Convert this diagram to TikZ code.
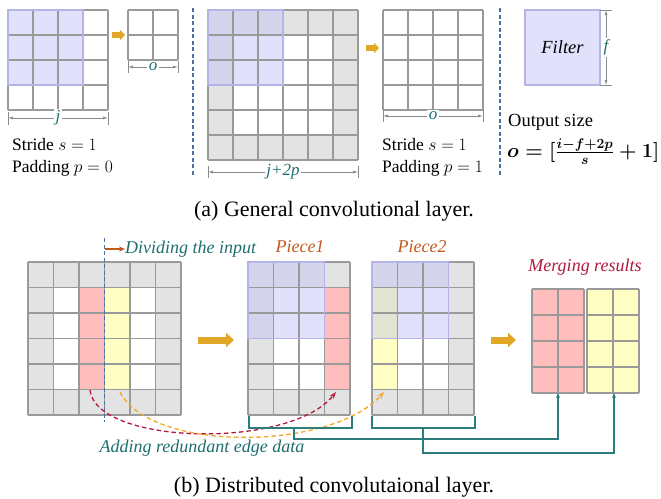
\RequirePackage{fix-cm}
\documentclass[tikz,border=0pt]{standalone}
\usepackage{fontspec}
\setmainfont{Liberation Serif}
\usetikzlibrary{arrows.meta,calc}
\definecolor{gridc}{HTML}{9A9A9A}
\definecolor{padc}{HTML}{E3E3E3}
\definecolor{bluec}{HTML}{E1E1FB}
\definecolor{bluegc}{HTML}{D4D4EC}
\definecolor{blueyc}{HTML}{E3E3D3}
\definecolor{blueedge}{HTML}{B4B4E6}
\definecolor{redc}{HTML}{FFBDBD}
\definecolor{yelc}{HTML}{FFFFC4}
\definecolor{tealc}{HTML}{1F6F6F}
\definecolor{goldc}{HTML}{E0A826}
\definecolor{sepc}{HTML}{4A72A0}
\definecolor{brownc}{HTML}{C05A1E}
\definecolor{crimc}{HTML}{B3193C}
\definecolor{orc}{HTML}{F5A623}
\definecolor{dimc}{HTML}{8A8A8A}
\definecolor{brkc}{HTML}{2E7D7D}
\newcommand{\cgrid}[5]{%
  \foreach \i in {0,...,#4} \draw[gridline] ({#1+\i*#3},#2) -- ({#1+\i*#3},{#2+#5*#3});
  \foreach \j in {0,...,#5} \draw[gridline] (#1,{#2+\j*#3}) -- ({#1+#4*#3},{#2+\j*#3});}
\newsavebox{\formbox}
\begin{document}
\sbox{\formbox}{\fontsize{20}{24}\selectfont\boldmath$o=\lbrack\frac{i-f+2p}{s}+1\rbrack$}%
\begin{tikzpicture}[x=1pt,y=-1pt,
  gridline/.style={gridc,line width=1.2pt},
  txt/.style={font=\fontsize{17.5}{20}\selectfont,inner sep=0pt},
  itxt/.style={font=\fontsize{18}{21}\selectfont\itshape,inner sep=0pt},
  captxt/.style={font=\fontsize{22}{26}\selectfont,inner sep=0pt},
  dimline/.style={dimc,line width=0.7pt,{Latex[length=5pt,width=3pt]}-{Latex[length=5pt,width=3pt]}},
  dimtick/.style={dimc,line width=0.7pt},
  dimlab/.style={font=\fontsize{17}{20}\selectfont\itshape,text=tealc,fill=white,inner sep=1.5pt},
  bigarrow/.style={goldc,line width=7pt,-{Triangle[length=8pt,width=14pt]}},
  smallarrow/.style={goldc,line width=5.5pt,-{Triangle[length=5pt,width=10pt]}},
  sepline/.style={sepc,line width=1.2pt,dash pattern=on 4pt off 2.5pt},
  curvered/.style={crimc,line width=1.3pt,dash pattern=on 4.5pt off 3pt,-{Stealth[length=7pt,width=5pt]}},
  curveor/.style={orc,line width=1.3pt,dash pattern=on 4.5pt off 3pt,-{Stealth[length=7pt,width=5pt]}},
  brk/.style={brkc,line width=1.2pt},
  brkarrow/.style={brkc,line width=1.2pt,-{Stealth[length=5pt,width=4pt]}},
  ovl/.style={blueedge,line width=1.2pt}]
\useasboundingbox (0,0) rectangle (661,498);
\fill[white] (0,0) rectangle (661,498);

% ================= (a) =================
\fill[bluec] (8,10) rectangle (83,85);
\cgrid{8}{10}{25}{4}{4}
\draw[ovl] (8,10) rectangle (83,85);
\draw[dimline] (8,118) -- (108,118) node[dimlab,midway] (dj) {j};
\draw[dimtick] (8,112) -- (8,125) (108,112) -- (108,125);
\node[txt,anchor=base west] (s0) at (12,150) {Stride $s=1$};
\node[txt,anchor=base west] (p0) at (12,172) {Padding $p=0$};
\coordinate (a1s) at (112,35); \coordinate (a1e) at (125,35);
\draw[smallarrow] (a1s) -- (a1e);
\cgrid{128}{10}{25}{2}{2}
\draw[dimline] (128,67) -- (178,67) node[dimlab,midway] (do1) {o};
\draw[dimtick] (128,61) -- (128,73) (178,61) -- (178,73);
\coordinate (sep1t) at (193,8); \coordinate (sep1b) at (193,175);
\draw[sepline] (sep1t) -- (sep1b);
\fill[padc] (208,10) rectangle (358,160);
\fill[white] (233,35) rectangle (333,135);
\fill[bluegc] (208,10) rectangle (283,85);
\fill[bluec] (233,35) rectangle (283,85);
\cgrid{208}{10}{25}{6}{6}
\draw[ovl] (208,10) rectangle (283,85);
\draw[dimline] (208,172) -- (358,172) node[dimlab,midway] (djp) {j+2p};
\draw[dimtick] (208,166) -- (208,178) (358,166) -- (358,178);
\coordinate (a2s) at (366,48); \coordinate (a2e) at (379,48);
\draw[smallarrow] (a2s) -- (a2e);
\cgrid{383}{10}{25}{4}{4}
\draw[dimline] (383,116) -- (483,116) node[dimlab,midway] (do2) {o};
\draw[dimtick] (383,110) -- (383,122) (483,110) -- (483,122);
\node[txt,anchor=base west] (s1) at (382,150) {Stride $s=1$};
\node[txt,anchor=base west] (p1) at (382,172) {Padding $p=1$};
\coordinate (sep2t) at (500,8); \coordinate (sep2b) at (500,175);
\draw[sepline] (sep2t) -- (sep2b);
\node[draw=blueedge,fill=bluec,line width=1.2pt,minimum width=75pt,minimum height=75pt,inner sep=0pt,font=\fontsize{18.5}{21}\selectfont\itshape] (filt) at (562.5,47.5) {Filter};
\draw[dimline] (606,10) -- (606,85) node[dimlab,midway] (df) {f};
\draw[dimtick] (600,10) -- (612,10) (600,85) -- (612,85);
\node[font=\fontsize{18.5}{21}\selectfont,inner sep=0pt,anchor=base west] (osz) at (508,126) {Output size};
\node[inner sep=0pt,anchor=west] (oform) at (507,152) {\usebox{\formbox}};
\node[captxt] (capa) at (334,211) {(a) General convolutional layer.};

% ================= (b) =================
\fill[padc] (28,262) rectangle (181,415);
\fill[white] (53.5,287.5) rectangle (155.5,389.5);
\fill[redc] (79,287.5) rectangle (104.5,389.5);
\fill[yelc] (104.5,287.5) rectangle (130,389.5);
\cgrid{28}{262}{25.5}{6}{6}
\coordinate (divt) at (104.5,238); \coordinate (divb) at (104.5,422);
\draw[sepline] (divt) -- (divb);
\node[itxt,text=tealc,anchor=west] (divl) at (125,249) {Dividing the input};
\draw[brownc,line width=1.2pt,-{Stealth[length=6pt,width=5pt]}] (104.5,249) -- (divl.west);
\coordinate (a3s) at (198,340); \coordinate (a3e) at (234,340);
\draw[bigarrow] (a3s) -- (a3e);
\fill[padc] (248,262) rectangle (350,415);
\fill[white] (273.5,287.5) rectangle (350,389.5);
\fill[redc] (324.5,287.5) rectangle (350,389.5);
\fill[bluegc] (248,262) rectangle (324.5,338.5);
\fill[bluec] (273.5,287.5) rectangle (324.5,338.5);
\cgrid{248}{262}{25.5}{4}{6}
\draw[ovl] (248,262) rectangle (324.5,338.5);
\node[itxt,text=brownc] (pc1) at (300,247) {Piece1};
\fill[padc] (372,262) rectangle (474,415);
\fill[white] (397.5,287.5) rectangle (448.5,389.5);
\fill[yelc] (372,287.5) rectangle (397.5,389.5);
\fill[bluegc] (372,262) rectangle (448.5,287.5);
\fill[blueyc] (372,287.5) rectangle (397.5,338.5);
\fill[bluec] (397.5,287.5) rectangle (448.5,338.5);
\cgrid{372}{262}{25.5}{4}{6}
\draw[ovl] (372,262) rectangle (448.5,338.5);
\node[itxt,text=brownc] (pc2) at (422,247) {Piece2};
\coordinate (a4s) at (491,340); \coordinate (a4e) at (516,340);
\draw[bigarrow] (a4s) -- (a4e);
\fill[redc] (532,289) rectangle (584,393);
\cgrid{532}{289}{26}{2}{4}
\fill[yelc] (587,289) rectangle (639,393);
\cgrid{587}{289}{26}{2}{4}
\node[itxt,text=crimc] (mrg) at (585,267) {Merging results};
\coordinate (mr) at (558,393); \coordinate (my) at (614,393);
\coordinate (rs) at (90,390); \coordinate (re) at (336,392);
\coordinate (os) at (120,392); \coordinate (oe) at (384,392);
\draw[curvered] (rs) .. controls (96,445) and (290,450) .. (re);
\draw[curveor] (os) .. controls (150,452) and (330,452) .. (oe);
\node[itxt,text=tealc] (add) at (202,448) {Adding redundant edge data};
\draw[brk] (249,416) -- (249,428) -- (352,428) -- (352,416);
\draw[brk] (372,416) -- (372,428) -- (475,428) -- (475,416);
\coordinate (b1) at (294,428); \coordinate (b2) at (423,428);
\draw[brkarrow] (b1) -- (294,439) -| (mr);
\draw[brkarrow] (b2) -- (423,453) -| (my);
\node[captxt] (capb) at (334,487) {(b) Distributed convolutaional layer.};
\end{tikzpicture}
\end{document}
